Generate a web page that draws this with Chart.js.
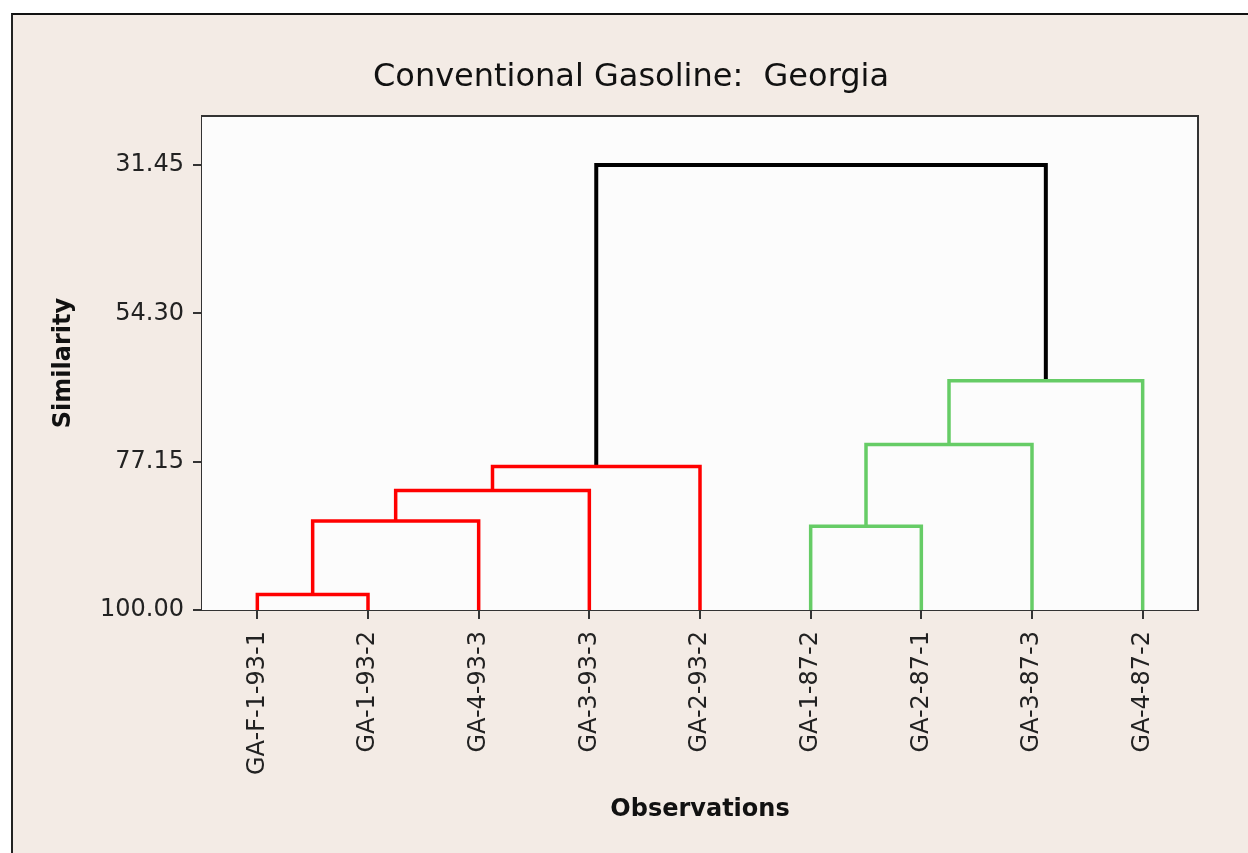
<!DOCTYPE html>
<html><head><meta charset="utf-8">
<script src="https://cdn.jsdelivr.net/npm/chart.js@4.4.1/dist/chart.umd.min.js"></script>
<style>
html,body{margin:0;padding:0;background:#fff;width:1248px;height:853px;overflow:hidden}
#panel{position:absolute;left:11px;top:13px;width:1237px;height:840px;background:#F3EBE5;border-top:2px solid #111;border-left:2px solid #222;box-sizing:border-box}
#wrap{position:absolute;left:0;top:0;width:1248px;height:853px}
</style></head><body>
<div id="panel"></div>
<div id="wrap"><canvas id="c" width="1248" height="853"></canvas></div>
<script>
const chartTitle = 'Conventional Gasoline:  Georgia';
const xAxisTitle = 'Observations';
const yAxisTitle = 'Similarity';
const observations = ['GA-F-1-93-1','GA-1-93-2','GA-4-93-3','GA-3-93-3','GA-2-93-2','GA-1-87-2','GA-2-87-1','GA-3-87-3','GA-4-87-2'];
const yTickValues = [31.45, 54.30, 77.15, 100.00];
const yTickLabels = ['31.45','54.30','77.15','100.00'];
// merges: node ids 0..8 are observations, 9.. are merged clusters in order
const mergeLeft  = [0, 9, 10, 11, 5, 13, 14, 12];
const mergeRight = [1, 2, 3, 4, 6, 7, 8, 15];
const mergeSimilarity = [97.6, 86.3, 81.6, 77.9, 87.1, 74.5, 64.7, 31.45];
const mergeColor = ['#FF0000','#FF0000','#FF0000','#FF0000','#66CC66','#66CC66','#66CC66','#000000'];
const mergeWidth = [3.5,3.5,3.5,3.5,3.5,3.5,3.5,4];

const nodeX = observations.map((_, i) => i);
const nodeH = observations.map(() => 100);
const datasets = [];
mergeLeft.forEach((l, k) => {
  const r = mergeRight[k];
  const h = mergeSimilarity[k];
  const id = observations.length + k;
  nodeX[id] = (nodeX[l] + nodeX[r]) / 2;
  nodeH[id] = h;
  datasets.push({
    data: [{x: nodeX[l], y: nodeH[l]}, {x: nodeX[l], y: h}, {x: nodeX[r], y: h}, {x: nodeX[r], y: nodeH[r]}],
    borderColor: mergeColor[k], backgroundColor: mergeColor[k],
    borderWidth: mergeWidth[k], showLine: true, pointRadius: 0, tension: 0,
    borderJoinStyle: 'miter', borderCapStyle: 'butt', fill: false
  });
});

const frame = {
  id: 'frame',
  beforeDatasetsDraw(chart) {
    const {ctx, chartArea: a} = chart;
    ctx.save();
    ctx.fillStyle = '#FCFCFC';
    ctx.fillRect(a.left, a.top, a.right - a.left, a.bottom - a.top);
    ctx.restore();
  },
  afterDraw(chart) {
    const {ctx, chartArea: a} = chart;
    ctx.save();
    ctx.strokeStyle = '#333';
    ctx.lineWidth = 2;
    ctx.beginPath();
    ctx.moveTo(a.left, a.top); ctx.lineTo(a.right, a.top); ctx.lineTo(a.right, a.bottom);
    ctx.stroke();
    ctx.fillStyle = '#111';
    ctx.font = '32px "DejaVu Sans"';
    ctx.textAlign = 'center';
    ctx.textBaseline = 'alphabetic';
    ctx.fillText(chartTitle, 631, 86);
    ctx.restore();
  }
};

new Chart(document.getElementById('c'), {
  type: 'scatter',
  data: { datasets },
  plugins: [frame],
  options: {
    responsive: false, animation: false, events: [],
    layout: { padding: { left: 13, top: 116, right: 50, bottom: 20 } },
    plugins: { legend: { display: false }, tooltip: { enabled: false }, title: { display: false } },
    scales: {
      x: {
        type: 'linear', min: -0.5, max: 8.5,
        afterFit: s => { s.height = 223; },
        afterBuildTicks: s => { s.ticks = observations.map((_, i) => ({ value: i })); },
        grid: { drawOnChartArea: false, drawTicks: true, tickLength: 9, color: '#333', lineWidth: 2 },
        border: { display: true, color: '#333', width: 2 },
        ticks: {
          autoSkip: false, maxRotation: 90, minRotation: 90, padding: 12,
          color: '#222', font: { family: 'DejaVu Sans', size: 24 },
          callback: v => observations[v]
        },
        title: { display: true, text: xAxisTitle, color: '#111', font: { family: 'DejaVu Sans', size: 24, weight: 'bold' }, padding: { top: 0, bottom: 9 } }
      },
      y: {
        type: 'linear', reverse: true, min: 23.9, max: 100,
        afterFit: s => { s.width = 189; },
        afterBuildTicks: s => { s.ticks = yTickValues.map(v => ({ value: v })); },
        grid: { drawOnChartArea: false, drawTicks: true, tickLength: 9, color: '#333', lineWidth: 2 },
        border: { display: true, color: '#333', width: 2 },
        ticks: {
          padding: 9, color: '#222', font: { family: 'DejaVu Sans', size: 24 },
          callback: v => yTickLabels[yTickValues.indexOf(v)]
        },
        title: { display: true, text: yAxisTitle, color: '#111', font: { family: 'DejaVu Sans', size: 24, weight: 'bold' }, padding: { top: 36, bottom: 0 } }
      }
    }
  }
});
</script>
</body></html>
